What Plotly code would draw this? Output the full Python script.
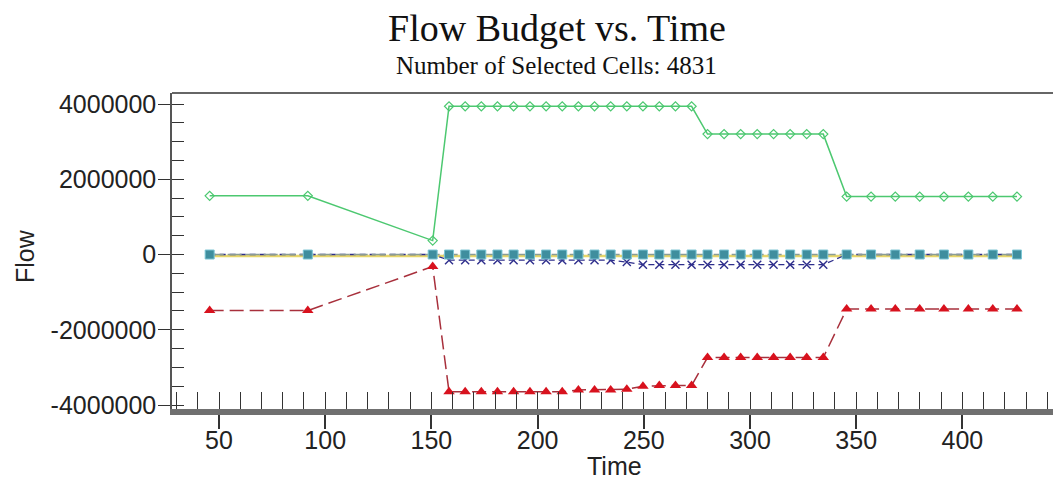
import plotly.graph_objects as go

# ---- data ----
time = [45.6, 91.8, 150.6, 158.3, 165.9, 173.5, 181.1, 188.7, 196.4, 204.0,
        211.6, 219.2, 226.8, 234.4, 242.0, 249.6, 257.3, 264.9, 272.5, 280.0,
        287.8, 295.6, 303.4, 311.1, 318.9, 326.7, 334.5, 345.5, 357.0, 368.4,
        379.9, 391.3, 402.8, 414.3, 425.7]

green_flow = [1.56e6, 1.56e6, 0.37e6] + [3.94e6] * 16 + [3.20e6] * 8 + [1.54e6] * 8
red_flow = ([-1.49e6, -1.49e6, -0.32e6] + [-3.65e6] * 8 + [-3.60e6] * 3
            + [-3.58e6, -3.50e6] + [-3.48e6] * 3 + [-2.74e6] * 8 + [-1.45e6] * 8)
blue_flow = [0, 0, 0] + [-0.15e6] * 11 + [-0.20e6] + [-0.27e6] * 12 + [0] * 8
teal_flow = [0] * 35
yellow_flow = [-0.04e6] * 35

x_ticks = [50, 100, 150, 200, 250, 300, 350, 400]
y_ticks = [-4000000, -2000000, 0, 2000000, 4000000]
y_tick_text = ["-4000000", "-2000000", "0", "2000000", "4000000"]

W, H = 1053, 480
LEFT, TOP, BOTTOM = 172, 93, 409
PLOT_W = W - LEFT
PLOT_H = BOTTOM - TOP
X_RANGE = [27.87, 27.87 + PLOT_W / 2.124]
Y_RANGE = [-4.106e6, 4.293e6]

fig = go.Figure()

fig.add_trace(go.Scatter(x=time, y=yellow_flow, mode="lines",
                         line=dict(color="#e6d66a", width=2.5), showlegend=False))
fig.add_trace(go.Scatter(x=time, y=blue_flow, mode="lines+markers",
                         line=dict(color="#2e2e8c", width=1.3, dash="6px,4px"),
                         marker=dict(symbol="x-thin", size=8,
                                     line=dict(color="#2e2e8c", width=1.4)),
                         showlegend=False))
fig.add_trace(go.Scatter(x=time, y=teal_flow, mode="lines+markers",
                         line=dict(color="#8a9c96", width=1.5, dash="14px,4px"),
                         marker=dict(symbol="square", size=9, color="#3f8e9e",
                                     line=dict(color="#7cc6d4", width=1)),
                         showlegend=False))
fig.add_trace(go.Scatter(x=time, y=red_flow, mode="lines+markers",
                         line=dict(color="#a8303c", width=1.5, dash="14px,6px"),
                         marker=dict(symbol="triangle-up", size=10, color="#d8121e"),
                         showlegend=False))
fig.add_trace(go.Scatter(x=time, y=green_flow, mode="lines+markers",
                         line=dict(color="#4cc870", width=1.5),
                         marker=dict(symbol="diamond-open", size=7,
                                     line=dict(color="#4cc870", width=1.2)),
                         showlegend=False))

tick_font = dict(family="Liberation Sans, Arial, sans-serif", size=25, color="#222222")
serif = "Liberation Serif, Times New Roman, serif"

fig.update_layout(
    width=W, height=H,
    margin=dict(l=LEFT, r=0, t=TOP, b=H - BOTTOM, autoexpand=False),
    paper_bgcolor="white", plot_bgcolor="white",
    title=dict(text="Flow Budget vs. Time", xref="container", x=557 / W,
               xanchor="center", yref="container", y=1 - 28 / H, yanchor="middle",
               font=dict(family=serif, size=38, color="#111111")),
    xaxis=dict(range=X_RANGE, tickvals=x_ticks, ticks="outside", ticklen=14,
               tickwidth=1.5, tickcolor="#333333", showline=True, linewidth=6,
               linecolor="#707070", showgrid=False, zeroline=False,
               tickfont=tick_font, ticklabelstandoff=-10),
    xaxis2=dict(range=X_RANGE, overlaying="x", anchor="y", side="bottom",
                tick0=0, dtick=10, ticks="inside", ticklen=17, tickwidth=1.3,
                tickcolor="#333333", showticklabels=False, showline=False,
                showgrid=False, zeroline=False),
    yaxis=dict(range=Y_RANGE, tickvals=y_ticks, ticktext=y_tick_text,
               ticks="outside", ticklen=12,
               tickwidth=1.3, tickcolor="#333333", showline=True, linewidth=1.5,
               linecolor="#555555", showgrid=False, zeroline=False,
               tickfont=tick_font, ticklabelstandoff=-3),
    yaxis2=dict(range=Y_RANGE, overlaying="y", anchor="x", side="left",
                tick0=0, dtick=500000, ticks="inside", ticklen=12, tickwidth=1.3,
                tickcolor="#333333", showticklabels=False, showline=False,
                showgrid=False, zeroline=False),
    shapes=[dict(type="line", xref="paper", yref="paper", x0=0, x1=1, y0=1, y1=1,
                 line=dict(color="#666666", width=2), layer="above")],
    annotations=[
        dict(text="Number of Selected Cells: 4831", xref="paper", yref="paper",
             x=(556 - LEFT) / PLOT_W, y=(BOTTOM - 65) / PLOT_H, xanchor="center",
             yanchor="middle", showarrow=False,
             font=dict(family=serif, size=25, color="#111111")),
        dict(text="Time", xref="paper", yref="paper", x=(614 - LEFT) / PLOT_W,
             y=(BOTTOM - 466) / PLOT_H, xanchor="center", yanchor="middle",
             showarrow=False, font=tick_font),
        dict(text="Flow", xref="paper", yref="paper", x=(25 - LEFT) / PLOT_W,
             y=(BOTTOM - 256) / PLOT_H, xanchor="center", yanchor="middle",
             showarrow=False, textangle=-90, font=tick_font),
    ],
)

# invisible trace to activate the overlay axes
fig.add_trace(go.Scatter(x=[None], y=[None], xaxis="x2", yaxis="y2", showlegend=False,
                         hoverinfo="skip"))

fig.write_html(
    "out.html",
    config={"displayModeBar": False},
    post_script="document.body.style.margin='0';"
                "document.documentElement.style.overflow='hidden';",
)
